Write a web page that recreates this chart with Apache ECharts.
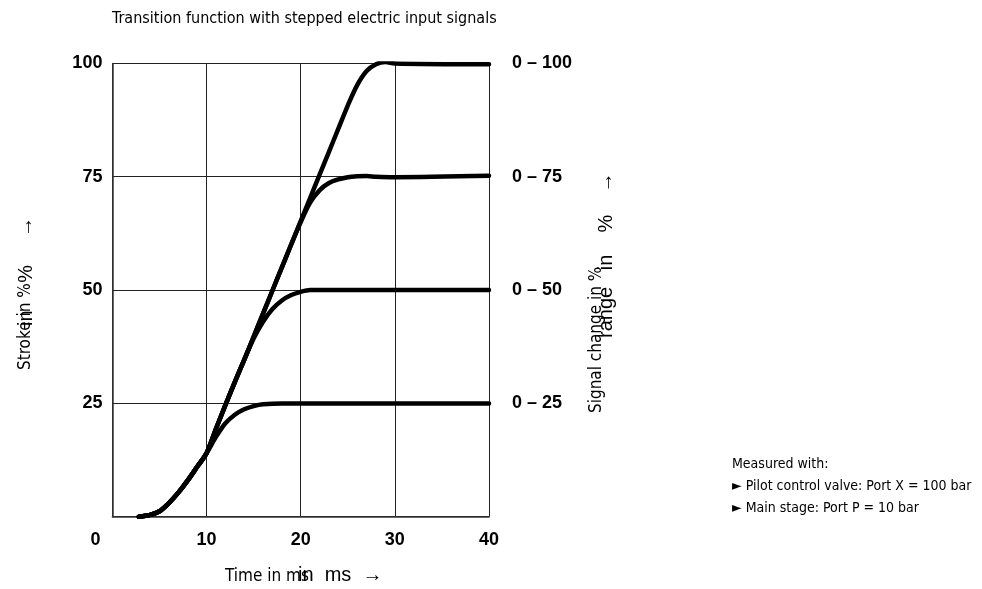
<!DOCTYPE html>
<html>
<head>
<meta charset="utf-8">
<script src="https://cdn.jsdelivr.net/npm/echarts@6/dist/echarts.min.js"></script>
<style>html,body{margin:0;padding:0;background:#fff}#c{width:982px;height:589px}</style>
</head>
<body>
<div id="c"></div>
<script>
// ---- data (time in ms, stroke in %) ----
const xTicks = [0, 10, 20, 30, 40];
const yTicks = [25, 50, 75, 100];
const rangeLabels = ['0 – 25', '0 – 50', '0 – 75', '0 – 100'];
const curve25 = [[2.8,0],[4,0.4],[5,1.2],[6,3],[7,5.3],[8,8],[9,11],[10,14],[11,17.6],[12,20.6],[13,22.5],[14,23.7],[15,24.4],[16,24.8],[18,25],[20,25],[40,25]];
const curve50 = [[2.8,0],[4,0.4],[5,1.2],[6,3],[7,5.3],[8,8],[9,11],[10,14],[11,19.4],[12,24.6],[13,29.7],[14,34.6],[15,39.3],[16,43],[17,45.8],[18,47.7],[19,48.9],[20,49.6],[21,50],[22,50],[40,50]];
const curve75 = [[2.8,0],[4,0.4],[5,1.2],[6,3],[7,5.3],[8,8],[9,11],[10,14],[11,19.4],[12,24.6],[13,29.7],[14,34.6],[15,39.7],[16,44.8],[17,49.9],[18,55],[19,60.1],[20,65],[21,69.3],[22,72],[23,73.6],[24,74.4],[25,74.9],[26,75.1],[27,75.15],[28,75],[30,74.9],[40,75.2]];
const curve100 = [[2.8,0],[4,0.4],[5,1.2],[6,3],[7,5.3],[8,8],[9,11],[10,14],[11,19.4],[12,24.6],[13,29.7],[14,34.6],[15,39.7],[16,44.8],[17,49.9],[18,55],[19,60.1],[20,65.2],[21,70.3],[22,75.4],[23,80.5],[24,85.6],[25,90.7],[26,95.2],[27,98.3],[28,99.8],[29,100.3],[30,100],[40,99.8]];
const titleText = 'Transition function with stepped electric input signals';
const noteLines = ['Measured with:', '► Pilot control valve: Port X = 100 bar', '► Main stage: Port P = 10 bar'];

const NARROW = "'Liberation Sans Narrow', 'DejaVu Sans Condensed', sans-serif";
const WIDE = "'Liberation Sans', Arial, sans-serif";
const chart = echarts.init(document.getElementById('c'), null, {renderer: 'canvas'});
const lineSeries = (d) => ({
  type: 'line', data: d, showSymbol: false, smooth: 0.3,
  lineStyle: {color: '#000', width: 4.5, cap: 'round', join: 'round'}, silent: true
});
const txt = (o, text, size, fam, extra) => Object.assign({type: 'text', silent: true,
  style: Object.assign({text: text, fontSize: size, fontFamily: fam, fill: '#000'}, extra || {})}, o);
chart.setOption({
  animation: false,
  backgroundColor: '#fff',
  grid: {left: 112.4, right: 493, top: 63.4, bottom: 72.3, containLabel: false},
  xAxis: {
    type: 'value', min: 0, max: 40, interval: 10,
    axisLine: {show: true, lineStyle: {color: '#333', width: 1.5}},
    axisTick: {show: false},
    splitLine: {show: true, lineStyle: {color: '#222', width: 1}},
    axisLabel: {
      margin: 14, fontFamily: WIDE, fontWeight: 'bold', fontSize: 18, color: '#000',
      formatter: (v) => v === 0 ? '{z|0}' : String(v),
      rich: {z: {fontFamily: WIDE, fontWeight: 'bold', fontSize: 18, color: '#000', padding: [0, 34, 0, 0]}}
    }
  },
  yAxis: [{
    type: 'value', min: 0, max: 100, interval: 25,
    axisLine: {show: true, lineStyle: {color: '#333', width: 1.5}},
    axisTick: {show: false},
    splitLine: {show: true, lineStyle: {color: '#222', width: 1}},
    axisLabel: {margin: 10, fontFamily: WIDE, fontWeight: 'bold', fontSize: 18, color: '#000',
      formatter: (v) => yTicks.indexOf(v) >= 0 ? String(v) : ''}
  }, {
    type: 'value', min: 0, max: 100, interval: 25, position: 'right',
    axisLine: {show: false}, axisTick: {show: false}, splitLine: {show: false},
    axisLabel: {margin: 23, fontFamily: WIDE, fontWeight: 'bold', fontSize: 18, color: '#000',
      formatter: (v) => { const i = yTicks.indexOf(v); return i >= 0 ? rangeLabels[i] : ''; }}
  }],
  series: [lineSeries(curve25), lineSeries(curve50), lineSeries(curve75), lineSeries(curve100)],
  graphic: [
    txt({left: 112, top: 11}, titleText, 16, NARROW),
    // x axis title (two overlapping texts as in the reference)
    txt({left: 225, top: 568}, 'Time in ms', 17, NARROW),
    txt({left: 298, top: 565}, 'in  ms  →', 20, WIDE),
    // left y axis title
    txt({x: 26, y: 370, rotation: Math.PI / 2}, 'Stroke in %', 17, NARROW, {verticalAlign: 'middle'}),
    txt({x: 26, y: 326, rotation: Math.PI / 2}, 'in     %     →', 20, WIDE, {verticalAlign: 'middle'}),
    // right axis title
    txt({x: 597, y: 413, rotation: Math.PI / 2}, 'Signal change in %', 17, NARROW, {verticalAlign: 'middle'}),
    txt({x: 606, y: 338, rotation: Math.PI / 2}, 'range   in    %    →', 20, WIDE, {verticalAlign: 'middle'}),
    // note
    txt({left: 732, top: 457}, noteLines[0], 14, NARROW),
    txt({left: 732, top: 479}, noteLines[1], 14, NARROW),
    txt({left: 732, top: 501}, noteLines[2], 14, NARROW)
  ]
});
</script>
</body>
</html>
